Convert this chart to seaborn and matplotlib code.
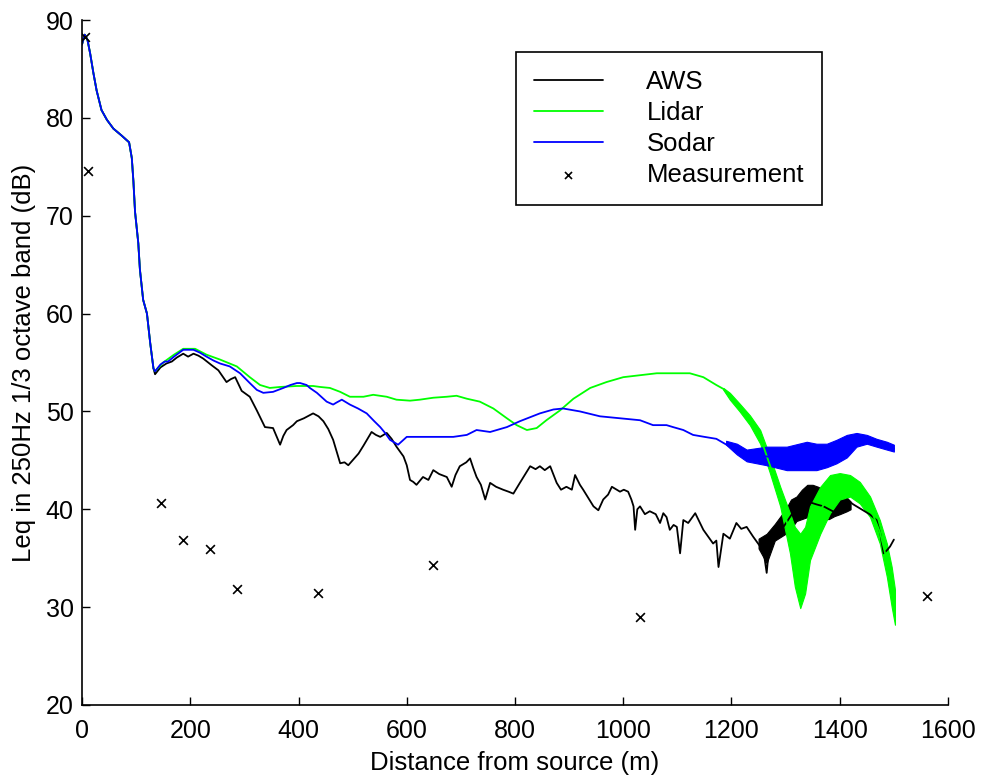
import numpy as np
import pandas as pd
import matplotlib
matplotlib.use("Agg")
import matplotlib.pyplot as plt
import seaborn as sns

# ---------------- data ----------------
# shared near-source part (all three model curves coincide)
head_x = [0, 5, 10, 15, 21, 27, 36, 46, 58, 73, 87, 92, 95, 98, 104, 107, 113, 120, 126, 132]
head_y = [87.5, 88.5, 88.0, 86.6, 84.6, 82.8, 80.8, 79.8, 78.9, 78.2, 77.5, 75.9, 73.5, 70.4,
          67.2, 64.5, 61.4, 60.0, 57.0, 54.4]

aws_x = [135, 145, 156, 166, 175, 187, 196, 206, 215, 224, 240, 252, 267, 275, 283, 295, 310,
         323, 338, 353, 366, 372, 378, 390, 397, 410, 427, 437, 446, 455, 464, 470, 477, 485,
         492, 500, 511, 520, 535, 543, 551, 563, 572, 581, 594, 600, 606, 612, 618, 630, 640,
         649, 660, 674, 683, 690, 698, 710, 717, 723, 729, 737, 745, 754, 765, 778, 788, 797,
         809, 818, 828, 838, 846, 855, 865, 877, 885, 895, 905, 911, 920, 926, 935, 945, 954,
         963, 972, 979, 988, 994, 1001, 1009, 1015, 1019, 1022, 1026, 1031, 1040, 1049, 1060,
         1068, 1074, 1080, 1086, 1093, 1099, 1105, 1111, 1120, 1133, 1140, 1148, 1157, 1166,
         1172, 1176, 1185, 1197, 1209, 1218, 1228, 1240, 1253, 1259, 1265, 1271, 1277, 1290,
         1296, 1320, 1340, 1357, 1370, 1394, 1413, 1425, 1440, 1455, 1468, 1475, 1481, 1487,
         1493, 1500]
aws_y = [53.8, 54.5, 54.9, 55.1, 55.5, 55.9, 55.6, 55.9, 55.7, 55.4, 54.7, 54.2, 53.0, 53.3,
         53.5, 52.1, 51.5, 50.1, 48.4, 48.3, 46.6, 47.5, 48.1, 48.6, 49.0, 49.3, 49.8, 49.5,
         49.0, 48.2, 47.1, 46.0, 44.7, 44.8, 44.5, 45.0, 45.7, 46.5, 47.9, 47.6, 47.4, 47.8,
         47.2, 46.4, 45.4, 44.5, 43.0, 42.8, 42.5, 43.3, 43.0, 44.0, 43.6, 43.3, 42.3, 43.5,
         44.4, 44.8, 45.2, 44.2, 43.3, 42.5, 41.0, 42.7, 42.3, 42.0, 41.8, 41.6, 42.7, 43.5,
         44.4, 44.1, 44.4, 44.0, 44.4, 42.7, 42.0, 42.3, 42.0, 43.5, 42.5, 42.0, 41.2, 40.3,
         39.9, 41.0, 41.5, 42.3, 42.0, 41.8, 42.0, 41.8, 41.0, 40.3, 37.9, 40.0, 40.3, 39.5,
         39.8, 39.5, 38.6, 39.6, 39.2, 37.9, 38.4, 38.2, 35.5, 38.9, 38.6, 39.6, 38.8, 37.9,
         37.2, 36.5, 36.8, 34.1, 37.5, 37.0, 38.6, 38.0, 38.2, 37.2, 36.2, 35.8, 33.5, 37.0,
         37.5, 38.0, 38.2, 40.2, 40.8, 40.5, 40.3, 39.6, 41.0, 40.5, 40.0, 39.5, 38.9, 37.5,
         35.5, 35.8, 36.2, 36.9]
aws_band_x = [1250, 1265, 1280, 1300, 1310, 1320, 1330, 1340, 1350, 1360, 1370, 1380, 1390,
              1400, 1413, 1420]
aws_band_lo = [36.0, 34.5, 36.8, 37.5, 38.0, 38.8, 39.0, 39.2, 38.5, 38.5, 39.0, 39.0, 39.3,
               39.5, 39.8, 40.0]
aws_band_hi = [37.0, 37.5, 38.5, 40.0, 41.0, 41.3, 42.0, 42.5, 42.5, 42.3, 42.0, 41.8, 41.5,
               41.3, 41.2, 40.8]

lidar_x = [135, 150, 170, 187, 209, 230, 255, 286, 310, 329, 347, 366, 397, 427, 440, 458, 477,
           495, 520, 538, 563, 581, 606, 624, 649, 674, 692, 711, 735, 760, 785, 803, 822, 840,
           858, 883, 908, 939, 969, 1000, 1031, 1062, 1092, 1123, 1148, 1172, 1185, 1197, 1215,
           1234, 1253, 1271, 1290, 1308, 1317, 1327, 1336, 1345, 1364, 1382, 1400, 1419, 1437,
           1456, 1474, 1487, 1496, 1502]
lidar_y = [54.1, 55.0, 55.8, 56.4, 56.4, 55.8, 55.3, 54.6, 53.5, 52.7, 52.4, 52.5, 52.6, 52.6,
           52.5, 52.4, 52.0, 51.5, 51.5, 51.7, 51.5, 51.2, 51.1, 51.2, 51.4, 51.5, 51.6, 51.3,
           51.0, 50.3, 49.3, 48.6, 48.1, 48.3, 49.1, 50.1, 51.3, 52.4, 53.0, 53.5, 53.7, 53.9,
           53.9, 53.9, 53.5, 52.7, 52.3, 51.5, 50.4, 49.1, 47.4, 44.5, 41.3, 37.5, 35.0, 33.7,
           34.8, 37.5, 39.9, 41.5, 42.3, 42.4, 41.7, 40.2, 37.7, 34.8, 32.0, 30.0]
lidar_band_x = [1185, 1197, 1215, 1234, 1253, 1271, 1290, 1308, 1317, 1327, 1336, 1345, 1364,
                1382, 1400, 1419, 1437, 1456, 1474, 1487, 1496, 1502]
lidar_band_lo = [52.2, 51.2, 50.0, 48.6, 46.7, 43.7, 40.3, 35.5, 32.1, 29.9, 31.4, 34.8, 37.5,
                 39.6, 41.0, 41.3, 40.6, 39.2, 36.5, 33.1, 30.0, 28.2]
lidar_band_hi = [52.4, 51.9, 50.8, 49.6, 48.1, 45.4, 42.3, 39.6, 38.2, 37.5, 38.2, 40.3, 42.3,
                 43.5, 43.7, 43.5, 42.8, 41.3, 38.9, 36.5, 34.1, 31.8]

sodar_x = [135, 145, 153, 159, 170, 187, 206, 218, 230, 243, 255, 273, 292, 310, 323, 335, 353,
           372, 385, 397, 403, 415, 421, 434, 452, 464, 470, 480, 495, 510, 526, 540, 551, 560,
           569, 584, 592, 600, 631, 661, 686, 711, 729, 754, 785, 809, 846, 871, 889, 920, 957,
           994, 1031, 1055, 1080, 1092, 1111, 1129, 1150, 1172, 1197, 1228, 1265, 1302, 1339,
           1357, 1376, 1394, 1413, 1431, 1450, 1468, 1487, 1500]
sodar_y = [54.1, 54.8, 55.1, 55.1, 55.6, 56.3, 56.3, 56.0, 55.6, 55.2, 54.9, 54.6, 53.9, 52.9,
           52.2, 51.9, 52.0, 52.4, 52.7, 52.9, 52.9, 52.7, 52.4, 51.9, 51.0, 50.7, 50.9, 51.2,
           50.7, 50.3, 49.8, 49.0, 48.4, 47.8, 47.1, 46.6, 47.0, 47.4, 47.4, 47.4, 47.4, 47.6,
           48.1, 47.9, 48.4, 49.0, 49.8, 50.2, 50.3, 50.0, 49.5, 49.3, 49.1, 48.6, 48.6, 48.4,
           48.1, 47.6, 47.4, 47.2, 46.4, 45.5, 45.4, 45.2, 45.5, 45.4, 45.5, 45.9, 46.5, 47.1,
           47.2, 46.8, 46.5, 46.2]
sodar_band_x = [1190, 1210, 1228, 1265, 1302, 1339, 1357, 1376, 1394, 1413, 1431, 1450, 1468,
                1487, 1500]
sodar_band_lo = [46.6, 45.6, 44.9, 44.5, 44.0, 44.0, 44.0, 44.3, 44.7, 45.3, 46.4, 46.7, 46.4,
                 46.1, 45.9]
sodar_band_hi = [47.0, 46.7, 46.1, 46.4, 46.4, 46.9, 46.7, 46.7, 47.1, 47.6, 47.8, 47.6, 47.2,
                 46.9, 46.6]

meas_x = [5, 12, 146, 187, 236, 286, 436, 648, 1031, 1561]
meas_y = [88.3, 74.6, 40.6, 36.9, 35.9, 31.9, 31.4, 34.3, 29.0, 31.1]

x_ticks = [0, 200, 400, 600, 800, 1000, 1200, 1400, 1600]
y_ticks = [20, 30, 40, 50, 60, 70, 80, 90]

# ---------------- style ----------------
sns.set_theme(style="white")
FONT = "Liberation Sans"
FS_TICK = 18
FS_LAB = 18.5
plt.rcParams["font.family"] = [FONT, "DejaVu Sans"]
plt.rcParams["axes.edgecolor"] = "black"
plt.rcParams["axes.labelcolor"] = "black"
plt.rcParams["text.color"] = "black"
plt.rcParams["xtick.color"] = "black"
plt.rcParams["ytick.color"] = "black"

fig = plt.figure(figsize=(9.83, 7.78), dpi=100)
ax = fig.add_axes([82 / 983, 1 - 705 / 778, (948 - 82) / 983, (705 - 20) / 778])

C_AWS, C_LID, C_SOD = "#000000", "#00ff00", "#0000ff"
LW = 1.3

def series(xs, ys):
    return pd.DataFrame({"x": list(head_x) + list(xs), "y": list(head_y) + list(ys)})

# AWS
sns.lineplot(data=series(aws_x, aws_y), x="x", y="y", sort=False, estimator=None,
             color=C_AWS, linewidth=LW, ax=ax, label="AWS")
ax.fill_between(aws_band_x, aws_band_lo, aws_band_hi, color=C_AWS, linewidth=0.8,
                edgecolor=C_AWS)
# Lidar
sns.lineplot(data=series(lidar_x, lidar_y), x="x", y="y", sort=False, estimator=None,
             color=C_LID, linewidth=LW, ax=ax, label="Lidar")
ax.fill_between(lidar_band_x, lidar_band_lo, lidar_band_hi, color=C_LID, linewidth=0.8,
                edgecolor=C_LID)
# Sodar
sns.lineplot(data=series(sodar_x, sodar_y), x="x", y="y", sort=False, estimator=None,
             color=C_SOD, linewidth=LW, ax=ax, label="Sodar")
ax.fill_between(sodar_band_x, sodar_band_lo, sodar_band_hi, color=C_SOD, linewidth=0.8,
                edgecolor=C_SOD)
# Measurement
sns.scatterplot(x=meas_x, y=meas_y, marker="x", color="black", s=40, linewidth=1.2,
                ax=ax, label="Measurement", zorder=5)

ax.set_xlim(0, 1600)
ax.set_ylim(20, 90)
ax.set_xticks(x_ticks)
ax.set_yticks(y_ticks)
ax.set_xticklabels([str(v) for v in x_ticks])
ax.set_yticklabels([str(v) for v in y_ticks])
ax.tick_params(axis="both", direction="in", length=6, width=1.0, colors="black",
               labelsize=FS_TICK, bottom=True, left=True)
ax.tick_params(axis="x", pad=10)
ax.tick_params(axis="y", pad=6)
for s in ["top", "right"]:
    ax.spines[s].set_visible(False)
for s in ["left", "bottom"]:
    ax.spines[s].set_linewidth(1.2)
    ax.spines[s].set_color("black")

ax.set_xlabel("Distance from source (m)", fontsize=FS_LAB, labelpad=6, color="black")
ax.set_ylabel("Leq in 250Hz 1/3 octave band (dB)", fontsize=FS_LAB, labelpad=7,
              color="black")

leg = ax.legend(loc="upper left", bbox_to_anchor=(0.501, 0.953), borderaxespad=0,
                fontsize=FS_LAB, handlelength=2.68, handletextpad=1.7, labelspacing=0.27,
                borderpad=0.7, fancybox=False, framealpha=1, edgecolor="black",
                markerscale=0.8)
leg.get_frame().set_linewidth(1.2)
for t in leg.get_texts():
    t.set_color("black")

fig.savefig("out.png", dpi=100)
